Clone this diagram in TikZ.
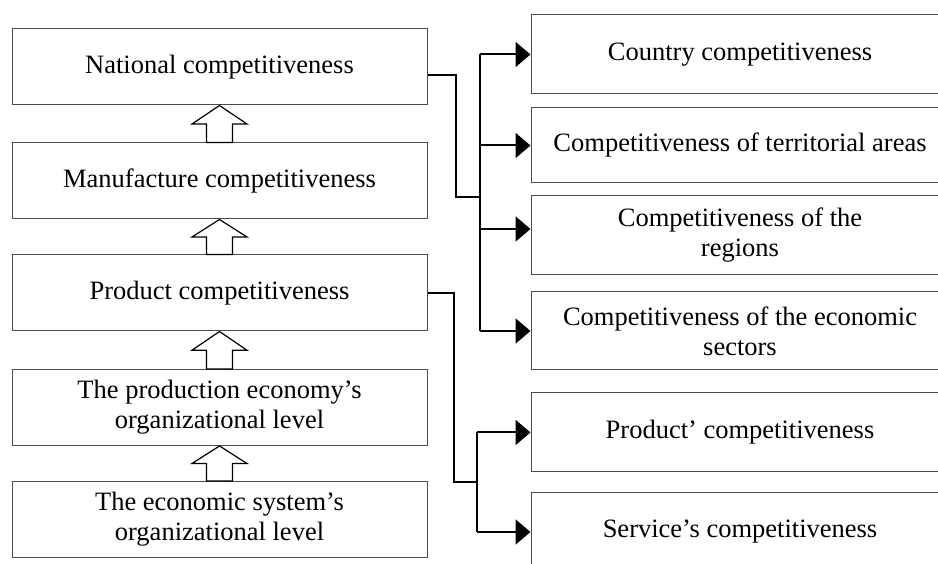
\documentclass[tikz,border=0pt]{standalone}
\usepackage{fontspec}
\setmainfont{Liberation Serif}
\usetikzlibrary{arrows.meta,calc}

\begin{document}
\begin{tikzpicture}[x=1pt,y=1pt,>={Triangle[length=15pt,width=25pt]},
  box/.style={draw=black!70,line width=1pt,minimum width=415pt,minimum height=76pt,align=center,font=\fontsize{26.5}{30}\selectfont},
  rbox/.style={box,minimum width=418pt,minimum height=79pt},
  link/.style={draw=black,line width=2pt},
  hollow/.style={draw=black,line width=1.2pt,fill=white}]

\useasboundingbox (0,0) rectangle (938,564);
\clip (0,0) rectangle (938,564);

\node[box] (b1) at (219.5,497) {National competitiveness};
\node[box] (b2) at (219.5,383) {Manufacture competitiveness};
\node[box] (b3) at (219.5,271) {Product competitiveness};
\node[box] (b4) at (219.5,156.5) {The production economy’s\\organizational level};
\node[box] (b5) at (219.5,44.5) {The economic system’s\\organizational level};

\foreach \lo/\hi in {b2/b1,b3/b2,b4/b3,b5/b4}
  \draw[hollow] ($(\lo.north)+(-13,0)$) -- ($(\lo.north)!.5!(\hi.south)+(-13,0)$)
    -- ($(\lo.north)!.5!(\hi.south)+(-27.5,0)$) -- (\hi.south)
    -- ($(\lo.north)!.5!(\hi.south)+(27.5,0)$) -- ($(\lo.north)!.5!(\hi.south)+(13,0)$)
    -- ($(\lo.north)+(13,0)$) -- cycle;

\node[rbox,minimum height=79pt] (ra) at (740,509.5) {Country competitiveness};
\node[rbox,minimum height=75pt] (rb) at (740,418.5) {Competitiveness of territorial areas};
\node[rbox] (rc) at (740,328.5) {Competitiveness of the\\regions};
\node[rbox,minimum height=78pt] (rd) at (740,233) {Competitiveness of the economic\\sectors};
\node[rbox] (re) at (740,131.5) {Product’ competitiveness};
\node[rbox] (rf) at (740,32) {Service’s competitiveness};

\coordinate (j1) at (480,367);
\coordinate (j2) at (477,82);

\draw[link] ($(b1.east)+(0,-8)$) -- ++(28,0) |- (j1);
\draw[link] (j1 |- ra.west) -- (j1 |- rd.west);
\foreach \r in {ra,rb,rd}
  \draw[link,->] (j1 |- \r.west) -- (\r.west);
\draw[link,->] (j1 |- 0,335) -- (rc.west |- 0,335);

\draw[link] (b3.east) -- ++(26,0) |- (j2);
\draw[link] (j2 |- re.west) -- (j2 |- rf.west);
\foreach \r in {re,rf}
  \draw[link,->] (j2 |- \r.west) -- (\r.west);

\end{tikzpicture}
\end{document}
